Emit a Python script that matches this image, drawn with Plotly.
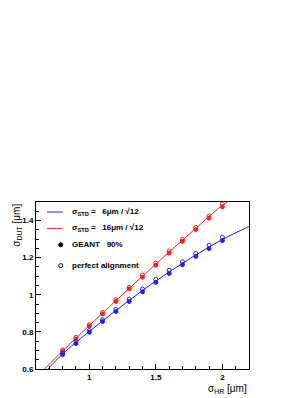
import plotly.graph_objects as go

# Data
x_pts = [0.8, 0.9, 1.0, 1.1, 1.2, 1.3, 1.4, 1.5, 1.6, 1.7, 1.8, 1.9, 2.0]
red_open = [0.703, 0.771, 0.838, 0.905, 0.973, 1.040, 1.106, 1.171, 1.236, 1.299, 1.364, 1.425, 1.490]
red_fill = [0.695, 0.762, 0.831, 0.897, 0.964, 1.032, 1.095, 1.160, 1.225, 1.288, 1.352, 1.413, 1.474]
blue_open = [0.685, 0.748, 0.807, 0.865, 0.921, 0.977, 1.031, 1.083, 1.132, 1.178, 1.223, 1.267, 1.310]
blue_fill = [0.678, 0.737, 0.798, 0.856, 0.910, 0.964, 1.016, 1.067, 1.115, 1.162, 1.207, 1.249, 1.292]

red_line_x = [0.665, 0.8, 1.0, 1.2, 1.4, 1.6, 1.8, 2.0, 2.04]
red_line_y = [0.6, 0.698, 0.834, 0.968, 1.100, 1.230, 1.358, 1.482, 1.5]
blue_line_x = [0.69, 0.8, 1.0, 1.2, 1.4, 1.6, 1.8, 2.0, 2.2]
blue_line_y = [0.6, 0.681, 0.802, 0.915, 1.023, 1.123, 1.214, 1.298, 1.368]

x_ticks = [1, 1.5, 2]
x_tick_labels = ["1", "1.5", "2"]
y_ticks = [0.6, 0.8, 1.0, 1.2, 1.4]
y_tick_labels = ["0.6", "0.8", "1", "1.2", "1.4"]

legend_labels = ["σ<sub>STD</sub> =   6μm / √12", "σ<sub>STD</sub> =   16μm / √12",
                 "GEANT   90%", "perfect alignment"]

RED = "#ff2020"
BLUE = "#2020ff"
FONT = "Liberation Sans"

fig = go.Figure()
fig.add_trace(go.Scatter(x=red_line_x, y=red_line_y, mode="lines", line=dict(color=RED, width=1), line_shape="spline"))
fig.add_trace(go.Scatter(x=blue_line_x, y=blue_line_y, mode="lines", line=dict(color=BLUE, width=1), line_shape="spline"))
for ys, col, sym in [(red_open, RED, "circle-open"), (red_fill, RED, "circle"),
                     (blue_open, BLUE, "circle-open"), (blue_fill, BLUE, "circle")]:
    fig.add_trace(go.Scatter(x=x_pts, y=ys, mode="markers",
                             marker=dict(symbol=sym, color=col, size=4, line=dict(color=col, width=1))))

axis_common = dict(showline=True, linecolor="black", linewidth=1, mirror=True,
                   ticks="inside", ticklen=5, tickcolor="black", showgrid=False, zeroline=False,
                   tickfont=dict(family=FONT, size=8, color="black", weight="bold"))
fig.update_xaxes(range=[0.6, 2.2], tickvals=x_ticks, ticktext=x_tick_labels,
                 minor=dict(dtick=0.1, ticks="inside", ticklen=3, tickcolor="black"), **axis_common)
fig.update_yaxes(range=[0.6, 1.5], tickvals=y_ticks, ticktext=y_tick_labels,
                 minor=dict(dtick=0.05, ticks="inside", ticklen=3, tickcolor="black"), **axis_common)

shapes = []
# legend line samples
shapes.append(dict(type="line", xref="paper", yref="paper", x0=0.052, x1=0.125, y0=0.940, y1=0.940,
                   line=dict(color=BLUE, width=1)))
shapes.append(dict(type="line", xref="paper", yref="paper", x0=0.052, x1=0.125, y0=0.842, y1=0.842,
                   line=dict(color=RED, width=1)))
rx, ry = 0.0095, 0.012
shapes.append(dict(type="circle", xref="paper", yref="paper", x0=0.116 - rx, x1=0.116 + rx,
                   y0=0.744 - ry, y1=0.744 + ry, fillcolor="black", line=dict(color="black", width=1)))
shapes.append(dict(type="circle", xref="paper", yref="paper", x0=0.116 - rx, x1=0.116 + rx,
                   y0=0.619 - ry, y1=0.619 + ry, line=dict(color="black", width=1)))
fig.update_layout(shapes=shapes)

ann = []
for lab, yy in zip(legend_labels, [0.940, 0.842, 0.744, 0.619]):
    ann.append(dict(text=lab, xref="paper", yref="paper", x=0.159, y=yy, xanchor="left", yanchor="middle",
                    showarrow=False, font=dict(family=FONT, size=8, color="black", weight="bold")))
ann.append(dict(text="σ<sub>HR</sub> [μm]", xref="paper", yref="paper", x=1.0, y=-0.07, xanchor="right",
                yanchor="top", showarrow=False, font=dict(family=FONT, size=10, color="black")))
ann.append(dict(text="σ<sub>DUT</sub> [μm]", xref="paper", yref="paper", x=-0.055, y=1.0, xanchor="right",
                yanchor="top", textangle=-90, showarrow=False, font=dict(family=FONT, size=10, color="black")))
fig.update_layout(annotations=ann)

fig.update_layout(width=300, height=390, showlegend=False,
                  margin=dict(l=28, r=59, t=194, b=29),
                  paper_bgcolor="white", plot_bgcolor="white")
fig.write_html("out.html")
